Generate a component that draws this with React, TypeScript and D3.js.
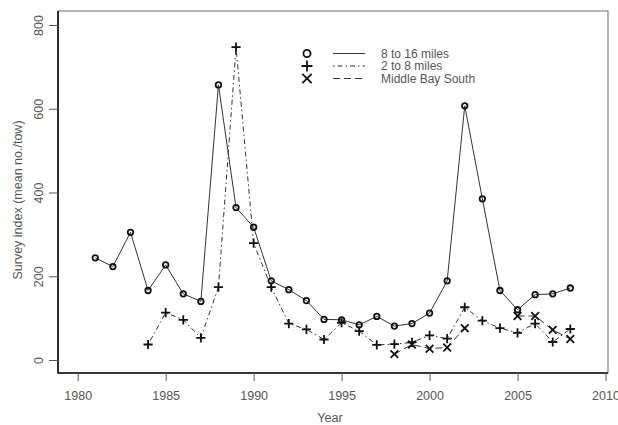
import React, { useEffect, useRef } from 'react';
import * as d3 from 'd3';

// survey index values
const yearsOffshore = [1981, 1982, 1983, 1984, 1985, 1986, 1987, 1988, 1989, 1990, 1991, 1992, 1993, 1994,
  1995, 1996, 1997, 1998, 1999, 2000, 2001, 2002, 2003, 2004, 2005, 2006, 2007, 2008];
const offshore = [244, 223, 305, 166, 227, 158, 140, 657, 364, 317, 189, 168, 142, 97,
  96, 84, 104, 81, 87, 112, 189, 607, 385, 166, 120, 156, 158, 172];

const yearsNearshore = [1984, 1985, 1986, 1987, 1988, 1989, 1990, 1991, 1992, 1993, 1994, 1995, 1996,
  1997, 1998, 1999, 2000, 2001, 2002, 2003, 2004, 2005, 2006, 2007, 2008];
const nearshore = [37, 113, 96, 53, 174, 747, 279, 174, 87, 73, 49, 89, 69,
  36, 38, 42, 59, 51, 126, 94, 76, 65, 87, 43, 74];

const yearsMidBay = [1998, 1999, 2000, 2001, 2002, 2003, 2004, 2005, 2006, 2007, 2008];
const midBay: (number | null)[] = [14, 37, 27, 30, 76, null, null, 105, 105, 72, 50];

const xTicks = [1980, 1985, 1990, 1995, 2000, 2005, 2010];
const yTicks = [0, 200, 400, 600, 800];

const legendLabels = ['8 to 16 miles', '2 to 8 miles', 'Middle Bay South'];

const W = 618, H = 425;
const box = { left: 58, right: 608, top: 11, bottom: 373 };
const font = '"Liberation Sans", Arial, sans-serif';
const textColor = '#555';

function drawMarker(g, type, x, y, s) {
  if (type === 'circle') {
    g.append('circle').attr('cx', x).attr('cy', y).attr('r', s * 0.55)
      .attr('fill', 'none').attr('stroke', '#111').attr('stroke-width', 1.8);
  } else if (type === 'plus') {
    g.append('path').attr('d', `M${x - s},${y}H${x + s}M${x},${y - s}V${y + s}`)
      .attr('stroke', '#111').attr('stroke-width', 1.8);
  } else {
    const d = s * 0.85;
    g.append('path').attr('d', `M${x - d},${y - d}L${x + d},${y + d}M${x - d},${y + d}L${x + d},${y - d}`)
      .attr('stroke', '#111').attr('stroke-width', 1.8);
  }
}

export default function App() {
  const ref = useRef<SVGSVGElement>(null);

  useEffect(() => {
    const svg = d3.select(ref.current);
    svg.selectAll('*').remove();

    const x = d3.scaleLinear().domain([1980, 2010]).range([77.7, 605.5]);
    const y = d3.scaleLinear().domain([0, 800]).range([360, 25]);

    // box
    svg.append('rect')
      .attr('x', box.left).attr('y', box.top)
      .attr('width', box.right - box.left).attr('height', box.bottom - box.top)
      .attr('fill', 'none').attr('stroke', '#666').attr('stroke-width', 1);
    svg.append('path')
      .attr('d', `M${box.left},${box.top}V${box.bottom}H${box.right}`)
      .attr('fill', 'none').attr('stroke', '#111').attr('stroke-width', 1.6);

    // axes
    const xAxis = d3.axisBottom(x).tickValues(xTicks).tickFormat(d3.format('d')).tickSize(8).tickSizeOuter(0).tickPadding(10);
    const gx = svg.append('g').attr('transform', `translate(0,${box.bottom})`).call(xAxis);
    gx.select('.domain').remove();
    gx.selectAll('line').attr('stroke', '#555');
    gx.selectAll('text').attr('font-family', font).attr('font-size', 12.5).attr('fill', textColor);

    const yAxis = d3.axisLeft(y).tickValues(yTicks).tickSize(9).tickSizeOuter(0).tickPadding(0);
    const gy = svg.append('g').attr('transform', `translate(${box.left},0)`).call(yAxis);
    gy.select('.domain').remove();
    gy.selectAll('line').attr('stroke', '#555');
    gy.selectAll('text')
      .attr('font-family', font).attr('font-size', 12.5).attr('fill', textColor)
      .attr('x', null).attr('dy', null)
      .attr('text-anchor', 'middle')
      .attr('transform', 'translate(-19,0) rotate(-90)')
      .attr('y', 0).attr('dy', '0.35em');

    svg.append('text')
      .attr('x', 330).attr('y', 422)
      .attr('text-anchor', 'middle')
      .attr('font-family', font).attr('font-size', 12.5).attr('fill', textColor)
      .text('Year');
    svg.append('text')
      .attr('transform', 'translate(22,200) rotate(-90)')
      .attr('text-anchor', 'middle')
      .attr('font-family', font).attr('font-size', 12.5).attr('fill', textColor)
      .text('Survey index (mean no./tow)');

    const series = [
      { years: yearsOffshore, vals: offshore, marker: 'circle', dash: null, size: 5 },
      { years: yearsNearshore, vals: nearshore, marker: 'plus', dash: '1.5,3,5,3', size: 4.6 },
      { years: yearsMidBay, vals: midBay, marker: 'cross', dash: '7,4', size: 4.5 },
    ];

    const line = d3.line<[number, number | null]>()
      .defined(d => d[1] !== null)
      .x(d => x(d[0]))
      .y(d => y(d[1] as number));

    series.forEach(s => {
      const pts = s.years.map((yr, i) => [yr, s.vals[i]] as [number, number | null]);
      svg.append('path')
        .attr('d', line(pts))
        .attr('fill', 'none')
        .attr('stroke', '#333')
        .attr('stroke-width', 1)
        .attr('stroke-dasharray', s.dash);
      const g = svg.append('g');
      pts.filter(p => p[1] !== null).forEach(p => drawMarker(g, s.marker, x(p[0]), y(p[1] as number), s.size));
    });

    // legend
    const lg = svg.append('g');
    const ly = [53.5, 66, 78.5];
    series.forEach((s, i) => {
      drawMarker(lg, s.marker, 307, ly[i], s.marker === 'circle' ? 6.5 : 5.5);
      lg.append('line')
        .attr('x1', 333).attr('x2', 365).attr('y1', ly[i]).attr('y2', ly[i])
        .attr('stroke', '#333').attr('stroke-width', 1)
        .attr('stroke-dasharray', s.dash);
      lg.append('text')
        .attr('x', 381).attr('y', ly[i]).attr('dy', '0.35em')
        .attr('font-family', font).attr('font-size', 12).attr('fill', textColor)
        .text(legendLabels[i]);
    });
  }, []);

  return (
    <svg ref={ref} width={W} height={H}
      style={{ position: 'absolute', left: 0, top: 0, background: '#fff' }} />
  );
}
